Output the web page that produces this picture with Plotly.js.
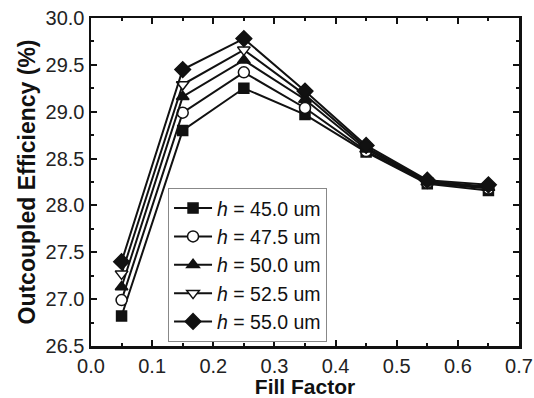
<!DOCTYPE html>
<html><head><meta charset="utf-8">
<script src="https://cdn.plot.ly/plotly-3.0.1.min.js"></script>
<style>html,body{margin:0;padding:0;background:#fff}</style>
</head><body><div id="plot" style="width:534px;height:398px"></div>
<script>
const fillFactor = [0.05, 0.15, 0.25, 0.35, 0.45, 0.55, 0.65];
const h450 = [26.82, 28.80, 29.25, 28.97, 28.57, 28.23, 28.16];
const h475 = [26.99, 28.99, 29.42, 29.04, 28.58, 28.24, 28.18];
const h500 = [27.13, 29.16, 29.55, 29.13, 28.60, 28.25, 28.19];
const h525 = [27.27, 29.29, 29.66, 29.18, 28.62, 28.26, 28.20];
const h550 = [27.40, 29.45, 29.78, 29.22, 28.64, 28.27, 28.22];
const seriesNames = ['<i>h</i> = 45.0 um','<i>h</i> = 47.5 um','<i>h</i> = 50.0 um','<i>h</i> = 52.5 um','<i>h</i> = 55.0 um'];
const seriesData = [h450, h475, h500, h525, h550];
const symbols = ['square','circle','triangle-up','triangle-down','diamond'];
const fills = ['#111','#fff','#111','#fff','#111'];
const sizes = [10, 11, 11, 11, 12];

const traces = seriesData.map((ys, i) => ({
  x: fillFactor, y: ys, name: seriesNames[i], type: 'scatter', mode: 'lines+markers',
  line: {color: '#111', width: 2},
  marker: {symbol: symbols[i], size: sizes[i], color: fills[i], line: {color: '#111', width: 1.5}}
}));

const fam = 'Liberation Sans, Arial, sans-serif';
const axFont = {family: fam, size: 20, color: '#222'};
const layout = {
  width: 534, height: 398,
  margin: {l: 91, r: 15, t: 18, b: 52},
  paper_bgcolor: '#fff', plot_bgcolor: '#fff',
  showlegend: true,
  legend: {x: 0.18, y: 0.482, xanchor: 'left', yanchor: 'top', bgcolor: '#fff',
           bordercolor: '#888', borderwidth: 1, itemwidth: 38,
           font: {family: fam, size: 19.5, color: '#111'},
           tracegroupgap: 0},
  xaxis: {range: [0, 0.7], dtick: 0.1, tickformat: '.1f', ticks: 'inside', ticklen: 6, tickwidth: 2,
          tickcolor: '#111', showline: true, linewidth: 2.5, linecolor: '#111', mirror: 'ticks',
          showgrid: false, zeroline: false, tickfont: axFont,
          minor: {dtick: 0.05, ticks: 'inside', ticklen: 3, tickwidth: 2, tickcolor: '#111'},
          title: {text: '<b>Fill Factor</b>', font: {family: fam, size: 21, color: '#111'}, standoff: 3}},
  yaxis: {range: [26.5, 30.0], dtick: 0.5, tickformat: '.1f', ticks: 'inside', ticklen: 6, tickwidth: 2,
          tickcolor: '#111', showline: true, linewidth: 2.5, linecolor: '#111', mirror: 'ticks',
          showgrid: false, zeroline: false, tickfont: axFont,
          minor: {dtick: 0.25, ticks: 'inside', ticklen: 3, tickwidth: 2, tickcolor: '#111'},
          title: {text: '<b>Outcoupled Efficiency (%)</b>', font: {family: fam, size: 23, color: '#111'}, standoff: 4}}
};
Plotly.newPlot('plot', traces, layout, {displayModeBar: false, staticPlot: true});
</script></body></html>
